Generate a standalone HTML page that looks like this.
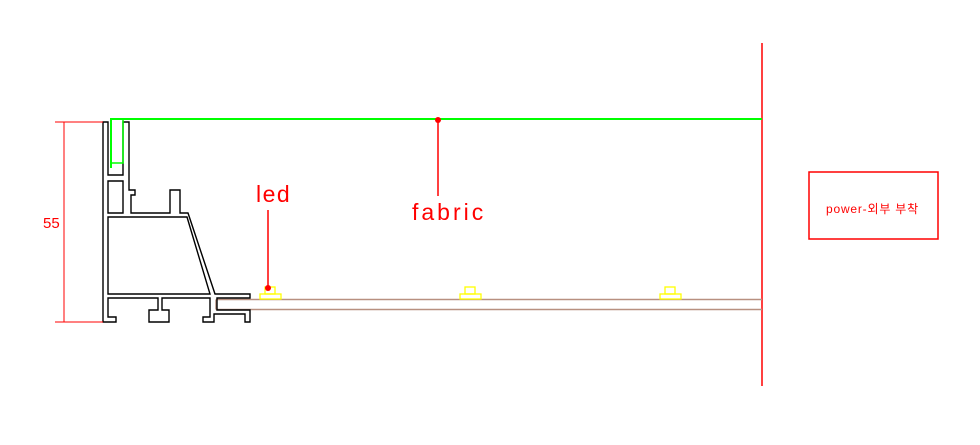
<!DOCTYPE html>
<html><head><meta charset="utf-8"><style>
html,body{margin:0;padding:0;background:#fff;width:980px;height:445px;overflow:hidden}
svg{display:block}
text{font-family:"Liberation Sans","Noto Sans CJK KR",sans-serif;fill:#f00}
</style></head><body>
<svg width="980" height="445" viewBox="0 0 980 445">
<line x1="762" y1="43" x2="762" y2="386" stroke="#f00" stroke-width="1.5"/>
<line x1="216" y1="299.5" x2="762" y2="299.5" stroke="#b89080" stroke-width="1.5"/>
<line x1="216" y1="309.5" x2="762" y2="309.5" stroke="#b89080" stroke-width="1.5"/>
<line x1="216" y1="299.5" x2="216" y2="309.5" stroke="#b89080" stroke-width="1.5"/>
<g fill="none" stroke="#ff0" stroke-width="1.3">
<rect x="260" y="294" width="21" height="5"/><rect x="265" y="287" width="10" height="7"/>
<rect x="460" y="294" width="21" height="5"/><rect x="465" y="287" width="10" height="7"/>
<rect x="660" y="294" width="21" height="5"/><rect x="665" y="287" width="10" height="7"/>
</g>
<g fill="none" stroke="#000" stroke-width="1.4">
<path d="M103,122 V322 H116 V317 H108 V298 H158 V310 H149 V322 H169 V310 H162 V298 H210 V317 H203 V322 H214 V314 H245 V322 H250 V310 H217 V298 H250 V294 H215 L188,213 H180 V190 H170 V213 H131 V195 H135 V190 H129 V122 H123 V175 H108 V122 Z"/>
<path d="M108,181 H123 V213 H108 Z"/>
<path d="M108,217 H187 L210,294 H108 Z"/>
</g>
<line x1="110" y1="119" x2="762" y2="119" stroke="#0f0" stroke-width="2"/>
<rect x="111" y="119" width="12" height="44" fill="none" stroke="#0f0" stroke-width="1.5"/>
<line x1="111" y1="119" x2="111" y2="168" stroke="#0f0" stroke-width="2"/>
<g stroke="#f00" stroke-width="1">
<line x1="64" y1="122" x2="64" y2="322"/>
<line x1="55" y1="122" x2="103" y2="122"/>
<line x1="55" y1="322" x2="103" y2="322"/>
</g>
<text x="43" y="228" font-size="15">55</text>
<line x1="268" y1="210" x2="268" y2="288" stroke="#f00" stroke-width="1.5"/>
<circle cx="268" cy="288" r="3" fill="#f00"/>
<text x="256" y="202" font-size="23" letter-spacing="1.5">led</text>
<line x1="438" y1="120" x2="438" y2="196" stroke="#f00" stroke-width="1.5"/>
<circle cx="438" cy="120" r="3" fill="#f00"/>
<text x="412" y="220" font-size="23" letter-spacing="3">fabric</text>
<rect x="809" y="172" width="129" height="67" fill="none" stroke="#f00" stroke-width="1.5"/>
<text x="826" y="213" font-size="12" letter-spacing="0.8">power-외부 부착</text>
</svg>
</body></html>
